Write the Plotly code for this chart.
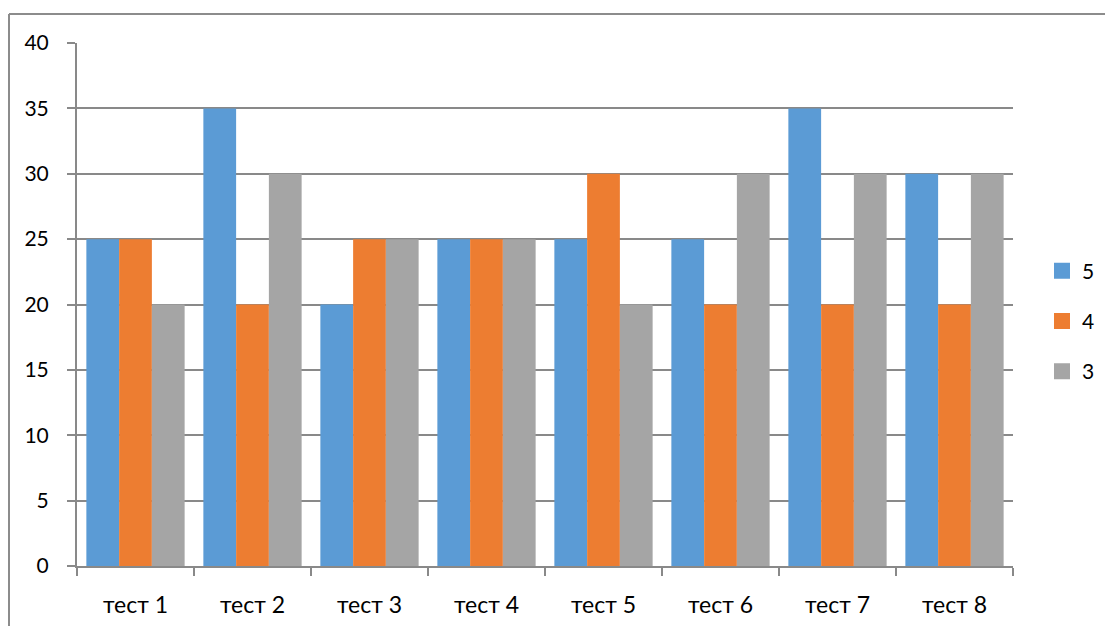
import plotly.graph_objects as go

categories = ["тест 1", "тест 2", "тест 3", "тест 4", "тест 5", "тест 6", "тест 7", "тест 8"]
grade_5 = [25, 35, 20, 25, 25, 25, 35, 30]
grade_4 = [25, 20, 25, 25, 30, 20, 20, 20]
grade_3 = [20, 30, 25, 25, 20, 30, 30, 30]

series = [("5", grade_5, "#5B9BD5"), ("4", grade_4, "#ED7D31"), ("3", grade_3, "#A5A5A5")]

FONT = "Lato, Noto Sans, sans-serif"
AXIS_GRAY = "#898989"

fig = go.Figure()
for name, values, color in series:
    fig.add_trace(go.Bar(
        x=categories, y=values, name=name, legendgroup=name,
        marker=dict(color=color, line=dict(width=0)),
        showlegend=False,
    ))
    # square legend swatch
    fig.add_trace(go.Scatter(
        x=[None], y=[None], mode="markers", name=name, legendgroup=name,
        marker=dict(symbol="square", size=18, color=color),
    ))

W, H = 1105, 626
L, R, T, B = 77, 92, 43, 60
pw, ph = W - L - R, H - T - B

fig.update_layout(
    width=W, height=H,
    margin=dict(l=L, r=R, t=T, b=B, autoexpand=False),
    paper_bgcolor="white", plot_bgcolor="white",
    barmode="group", bargap=0.16, bargroupgap=0,
    font=dict(family=FONT, color="#000000"),
    showlegend=True,
    legend=dict(
        x=(1042 - L) / pw, y=(566 - 321) / ph, xanchor="left", yanchor="middle",
        font=dict(size=21, family=FONT),
        tracegroupgap=20, itemwidth=30,
    ),
    xaxis=dict(
        type="category", showline=True, linecolor=AXIS_GRAY, linewidth=2,
        ticks="outside", ticklen=8, tickcolor=AXIS_GRAY, tickwidth=2,
        tickson="boundaries", showgrid=False,
        tickfont=dict(size=23, family=FONT), ticklabelstandoff=17,
    ),
    yaxis=dict(
        range=[0, 40], dtick=5, showline=True, linecolor=AXIS_GRAY, linewidth=2,
        ticks="outside", ticklen=8, tickcolor=AXIS_GRAY, tickwidth=2,
        showgrid=True, gridcolor=AXIS_GRAY, gridwidth=2, zeroline=False,
        tickfont=dict(size=21, family=FONT), ticklabelstandoff=14,
    ),
    shapes=[
        # outer chart frame (left and top edges)
        dict(type="line", xref="paper", yref="paper",
             x0=(9 - L) / pw, x1=(9 - L) / pw, y0=-0.2, y1=(H - B - 14) / ph,
             line=dict(color="#8c8c8c", width=2), layer="above"),
        dict(type="line", xref="paper", yref="paper",
             x0=(9 - L) / pw, x1=(W + 5 - L) / pw, y0=(H - B - 14) / ph, y1=(H - B - 14) / ph,
             line=dict(color="#8c8c8c", width=2), layer="above"),
    ],
)

fig.write_html("out.html")
